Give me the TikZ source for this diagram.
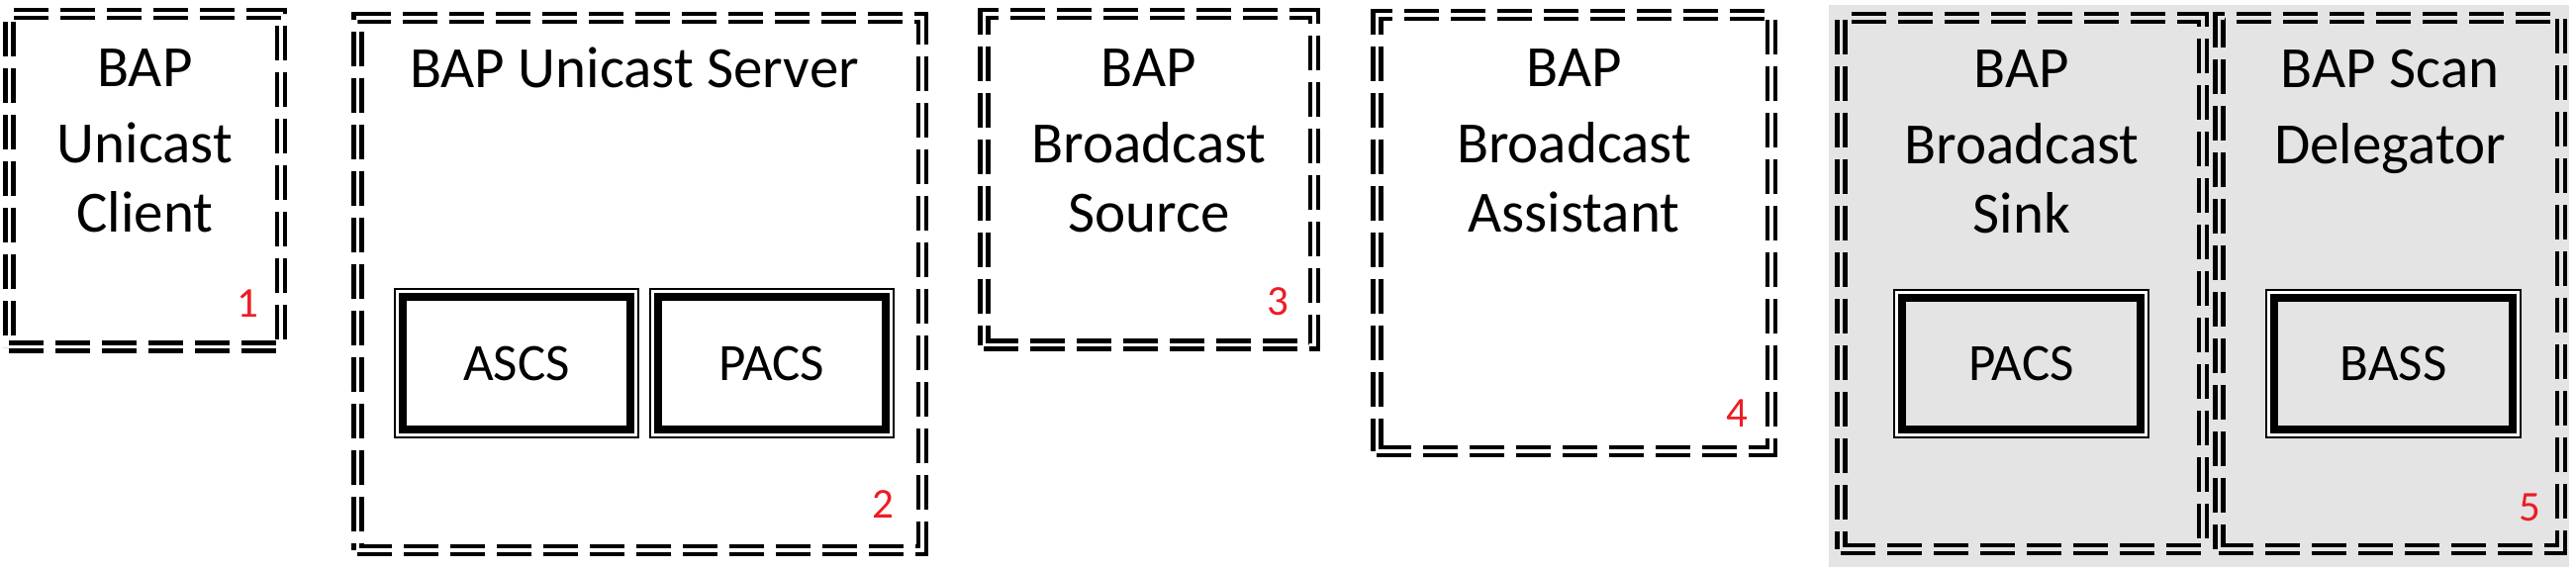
\documentclass[tikz,border=0pt]{standalone}
\usepackage{fontspec}
\setmainfont{Carlito}
\definecolor{bggray}{RGB}{228,228,228}
\definecolor{numred}{RGB}{237,28,36}
\begin{document}
\begin{tikzpicture}[x=1pt,y=-1pt,
  dbox/.style={draw, line width=4.5pt, double distance=3.5pt, dash pattern=on 35pt off 12pt, inner sep=0pt, outer sep=0pt},
  svc/.style={draw, line width=8pt, fill=white, inner sep=0pt, outer sep=0pt,
     preaction={draw=black, line width=18pt}, preaction={draw=white, line width=14pt},
     font=\fontsize{53}{62}\selectfont},
  lbl/.style={align=center, inner sep=0pt, anchor=north, font=\fontsize{59}{70}\selectfont},
  num/.style={inner sep=0pt, text=numred, font=\fontsize{43}{50}\selectfont}]
\useasboundingbox (0,0) rectangle (2603,577);
% gray background behind sink and delegator
\node[fill=bggray, inner sep=0pt, minimum width=748pt, minimum height=568pt] (bg) at (2222,289) {};
% dashed double boxes
\node[dbox, minimum width=274.5pt, minimum height=336.5pt] (b1) at (146.5,182.5) {};
\node[dbox, minimum width=570.5pt, minimum height=537.5pt] (b2) at (646.5,287) {};
\node[dbox, minimum width=333.5pt, minimum height=334.5pt] (b3) at (1161,181.5) {};
\node[dbox, minimum width=398.5pt, minimum height=440.5pt] (b4) at (1590.5,235.5) {};
\node[dbox, double=bggray, minimum width=365.5pt, minimum height=536.5pt] (b5) at (2043,286.5) {};
\node[dbox, double=bggray, minimum width=345.5pt, minimum height=536.5pt] (b6) at (2415,286.5) {};
% titles
\node[lbl] (t1) at (146.5,49) {BAP\\[7pt]Unicast\\Client};
\node[lbl] (t2) at (641,48) {BAP Unicast Server};
\node[lbl] (t3) at (1161,49) {BAP\\[7pt]Broadcast\\Source};
\node[lbl] (t4) at (1590.5,49) {BAP\\[7pt]Broadcast\\Assistant};
\node[lbl] (t5) at (2043,50) {BAP\\[7pt]Broadcast\\Sink};
\node[lbl] (t6) at (2415,50) {BAP Scan\\[7pt]Delegator};
% services
\node[svc, minimum width=230pt, minimum height=134pt] (ascs) at (522,367) {ASCS};
\node[svc, minimum width=230pt, minimum height=134pt] (pacs1) at (780,367) {PACS};
\node[svc, fill=bggray, minimum width=241pt, minimum height=133pt] (pacs2) at (2042.5,367.5) {PACS};
\node[svc, fill=bggray, minimum width=241pt, minimum height=133pt] (bass) at (2418.5,367.5) {BASS};
% numbers
\node[num] (n1) at (250,307) {1};
\node[num] (n2) at (892,510) {2};
\node[num] (n3) at (1291,305) {3};
\node[num] (n4) at (1755,418) {4};
\node[num] (n5) at (2556,513) {5};
\end{tikzpicture}
\end{document}
